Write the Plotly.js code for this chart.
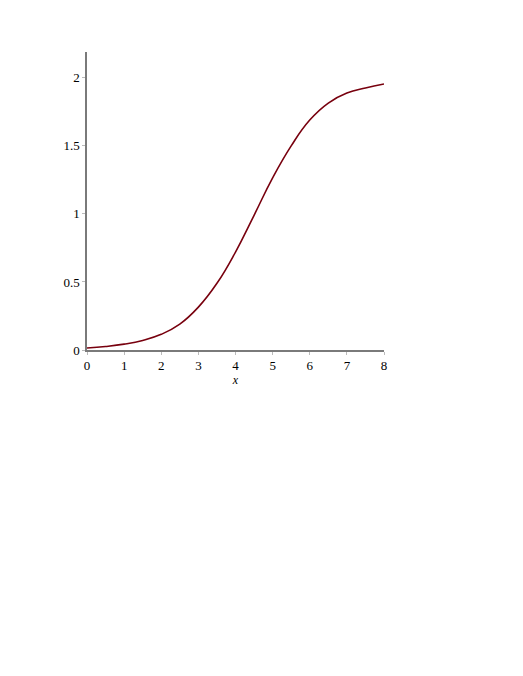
<!DOCTYPE html>
<html>
<head>
<meta charset="utf-8">
<script src="https://cdn.plot.ly/plotly-3.0.1.min.js"></script>
<style>
  html, body { margin: 0; padding: 0; background: #fff; }
  #chart { width: 523px; height: 676px; }
</style>
</head>
<body>
<div id="chart"></div>
<script>
// values
const xVals = [0, 0.5, 1, 1.5, 2, 2.5, 3, 3.5, 4, 4.5, 5, 5.5, 6, 6.5, 7, 7.5, 8];
const yVals = [0.015, 0.026, 0.043, 0.07, 0.115, 0.19, 0.315, 0.49, 0.72, 0.99, 1.265, 1.5, 1.69, 1.815, 1.888, 1.926, 1.955];

const xTicks = [0, 1, 2, 3, 4, 5, 6, 7, 8];
const yTicks = [0, 0.5, 1, 1.5, 2];
const yTickText = ["0", "0.5", "1", "1.5", "2"];

const axisColor = "#7a7a7a";
const tickFont = { family: "Liberation Serif, Times New Roman, serif", size: 13, color: "#000" };

const trace = {
  x: xVals,
  y: yVals,
  type: "scatter",
  mode: "lines",
  line: { color: "#78000E", width: 1.6, shape: "spline", smoothing: 1.3 },
  hoverinfo: "skip",
};

const layout = {
  width: 523,
  height: 676,
  margin: { l: 87, r: 139, t: 52, b: 326 },
  paper_bgcolor: "#fff",
  plot_bgcolor: "#fff",
  showlegend: false,
  xaxis: {
    range: [0, 8],
    tickvals: xTicks,
    ticktext: xTicks.map(String),
    ticks: "outside",
    ticklen: 3,
    tickcolor: "#bbb",
    showline: true,
    linecolor: axisColor,
    linewidth: 1.6,
    showgrid: false,
    zeroline: false,
    tickfont: tickFont,
    title: { text: "<i>x</i>", font: { family: "Liberation Serif, serif", size: 12, color: "#000" }, standoff: 0 },
  },
  yaxis: {
    range: [0, 2.19],
    tickvals: yTicks,
    ticktext: yTickText,
    ticks: "outside",
    ticklen: 3,
    tickcolor: "#bbb",
    showline: true,
    linecolor: axisColor,
    linewidth: 1.6,
    showgrid: false,
    zeroline: false,
    tickfont: tickFont,
  },
};

Plotly.newPlot("chart", [trace], layout, { staticPlot: true, displayModeBar: false });
</script>
</body>
</html>
